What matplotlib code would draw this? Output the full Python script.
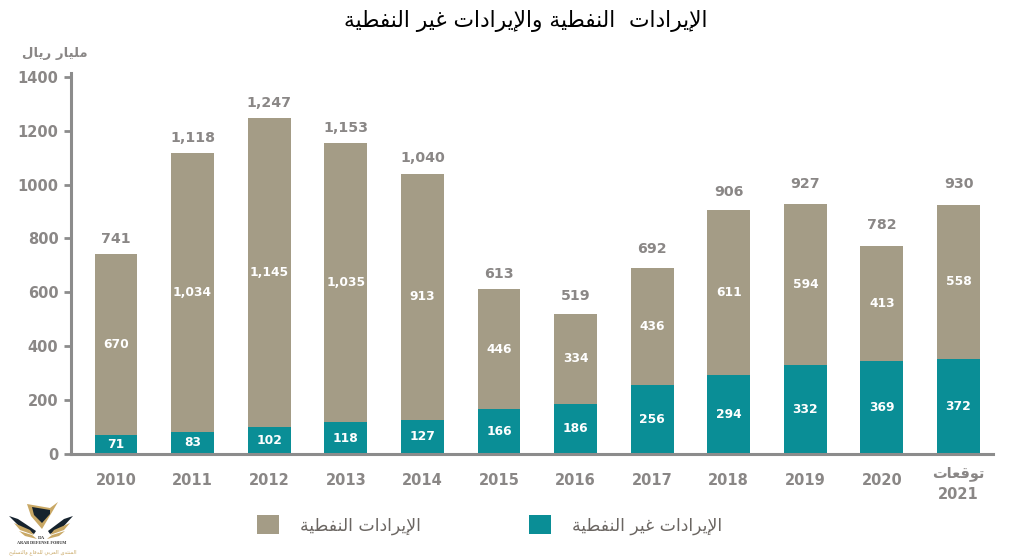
import matplotlib
matplotlib.use("Agg")
import matplotlib.pyplot as plt
from matplotlib.patches import Polygon
from matplotlib.transforms import ScaledTranslation

years = ['2010', '2011', '2012', '2013', '2014', '2015', '2016', '2017', '2018', '2019', '2020', '2021']
# printed figures
non_oil = [71, 83, 102, 118, 127, 166, 186, 256, 294, 332, 369, 372]
oil = [670, 1034, 1145, 1035, 913, 446, 334, 436, 611, 594, 413, 558]
totals = [741, 1118, 1247, 1153, 1040, 613, 519, 692, 906, 927, 782, 930]
# bar heights as drawn in the picture: the last two years do not match their labels
non_oil_drawn = [71, 83, 102, 118, 127, 166, 186, 256, 294, 332, 345, 353]
oil_drawn = [670, 1034, 1145, 1035, 913, 446, 334, 436, 611, 594, 427, 572]
y_ticks = [0, 200, 400, 600, 800, 1000, 1200, 1400]

title = 'الإيرادات  النفطية والإيرادات غير النفطية'
unit = 'مليار ريال'
oil_name = 'الإيرادات النفطية'
non_oil_name = 'الإيرادات غير النفطية'
forecast = 'توقعات'
forum_ar = 'المنتدى العربي للدفاع والتسليح'

OIL = '#a49c86'
NON_OIL = '#0a8e96'
GREY = '#8a8786'
AXIS = '#8c8c8c'

W, H = 1009, 557

# matplotlib does no arabic shaping, so map letters to presentation forms
# letter: isolated, final, initial, medial
FORMS = {
    'ا': 'ﺍﺎ', 'إ': 'ﺇﺈ', 'ر': 'ﺭﺮ', 'د': 'ﺩﺪ', 'و': 'ﻭﻮ', 'ة': 'ﺓﺔ', 'ى': 'ﻯﻰ',
    'ل': 'ﻝﻞﻟﻠ', 'ي': 'ﻱﻲﻳﻴ', 'ت': 'ﺕﺖﺗﺘ', 'ن': 'ﻥﻦﻧﻨ', 'ف': 'ﻑﻒﻓﻔ',
    'ط': 'ﻁﻂﻃﻄ', 'غ': 'ﻍﻎﻏﻐ', 'م': 'ﻡﻢﻣﻤ', 'ق': 'ﻕﻖﻗﻘ', 'ع': 'ﻉﻊﻋﻌ',
    'ب': 'ﺏﺐﺑﺒ', 'ح': 'ﺡﺢﺣﺤ', 'س': 'ﺱﺲﺳﺴ',
}
LAM_ALEF = {'ا': 'ﻻﻼ', 'إ': 'ﻹﻺ'}


def shape(text):
    out = []
    joins = False
    i = 0
    while i < len(text):
        c = text[i]
        if c not in FORMS:
            out.append(c)
            joins = False
            i += 1
            continue
        if c == 'ل' and i + 1 < len(text) and text[i + 1] in LAM_ALEF:
            out.append(LAM_ALEF[text[i + 1]][1 if joins else 0])
            joins = False
            i += 2
            continue
        forms = FORMS[c]
        next_ok = i + 1 < len(text) and text[i + 1] in FORMS
        if len(forms) == 4 and next_ok:
            out.append(forms[3] if joins else forms[2])
            joins = True
        else:
            out.append(forms[1] if joins else forms[0])
            joins = False
        i += 1
    return ''.join(out)[::-1]


fig = plt.figure(figsize=(W / 100, H / 100), dpi=100)


def px_x(x):
    return x / W


def px_y(y):
    return 1 - y / H


# axes box in pixels: spine at x=71, baseline at y=454, 1400 at y=77
ax = fig.add_axes([px_x(71), px_y(454), (993 - 71) / W, (454 - 73) / H])
positions = list(range(len(years)))
bars_non = ax.bar(positions, non_oil_drawn, width=0.56, color=NON_OIL)
bars_oil = ax.bar(positions, oil_drawn, width=0.56, bottom=non_oil_drawn, color=OIL)

ax.bar_label(bars_non, labels=[str(v) for v in non_oil], label_type='center', color='white',
             fontsize=8.8, fontweight='bold')
ax.bar_label(bars_oil, labels=[f'{v:,}' for v in oil], label_type='center', color='white',
             fontsize=8.8, fontweight='bold')
total_labels = ax.bar_label(bars_oil, labels=[f'{v:,}' for v in totals], padding=6, color=GREY,
                            fontsize=10.2, fontweight='bold')
# the gap above the bars grows towards the right of the original
for label, pad in zip(total_labels, [6, 6, 6, 6, 6, 6, 8, 8, 8, 10, 10, 10]):
    label.xyann = (0, pad)

ax.set_xlim(-0.587, 11.45)
ax.set_ylim(0, 1414)
ax.set_yticks(y_ticks)
ax.set_xticks(positions)
ax.set_xticklabels(years[:-1] + [shape(forecast) + '\n' + years[-1]])
ax.tick_params(axis='y', length=5, width=2, color=AXIS, pad=4, labelsize=10.5, labelcolor=GREY)
ax.tick_params(axis='x', length=0, pad=14, labelsize=10.5, labelcolor=GREY)
for label in ax.get_yticklabels():
    label.set_fontweight('bold')
for label in ax.get_xticklabels():
    label.set_fontweight('bold')
    label.set_verticalalignment('top')
    label.set_linespacing(1.5)
# the two-line label starts higher than the plain years
last = ax.get_xticklabels()[-1]
last.set_transform(last.get_transform() + ScaledTranslation(0, 5.5 / 72, fig.dpi_scale_trans))

for side in ['top', 'right']:
    ax.spines[side].set_visible(False)
for side in ['left', 'bottom']:
    ax.spines[side].set_color(AXIS)
    ax.spines[side].set_linewidth(2.2)

fig.text(px_x(526), px_y(21), shape(title), ha='center', va='center', fontsize=15.7, color='black')
fig.text(px_x(55), px_y(53), shape(unit), ha='center', va='center', fontsize=9.5,
         fontweight='bold', color=GREY)

ax.legend([bars_oil, bars_non], [shape(oil_name), shape(non_oil_name)], ncol=2, frameon=False,
          loc='center left', bbox_to_anchor=(px_x(257), px_y(525)), bbox_transform=fig.transFigure,
          borderpad=0, borderaxespad=0, handlelength=1.28, handleheight=1.28, handletextpad=1.2,
          columnspacing=6.3, fontsize=12.4, labelcolor='#6b6662')

# forum watermark, bottom left
GOLD = '#c9a865'
DARK = '#16232e'
logo = [
    ([(27, 504), (50, 508), (58, 502), (42, 529), (31, 516)], GOLD),
    ([(32, 507), (50, 510), (50, 514), (42, 523), (34, 515)], DARK),
    ([(9, 516), (18, 519), (36, 531), (34, 534), (20, 527)], DARK),
    ([(73, 516), (64, 519), (48, 531), (50, 534), (63, 527)], DARK),
    ([(14, 523), (30, 530), (34, 535), (20, 530)], GOLD),
    ([(70, 523), (54, 530), (50, 535), (64, 530)], GOLD),
    ([(19, 531), (32, 535), (37, 539), (25, 536)], GOLD),
    ([(65, 531), (52, 535), (47, 539), (59, 536)], GOLD),
]
for points, colour in logo:
    fig.add_artist(Polygon([(px_x(x), px_y(y)) for x, y in points], closed=True, color=colour,
                           transform=fig.transFigure, linewidth=0))
fig.text(px_x(42), px_y(538), 'DA', ha='center', va='center', fontsize=3.6,
         family='Liberation Serif', fontweight='bold', color='#333333')
fig.text(px_x(42), px_y(543), 'ARAB DEFENSE FORUM', ha='center', va='center', fontsize=3.1,
         family='Liberation Serif', fontweight='bold', color='#333333')
fig.text(px_x(43), px_y(552), shape(forum_ar), ha='center', va='center', fontsize=3.8, color=GOLD)

plt.savefig('out.png', dpi=100)
